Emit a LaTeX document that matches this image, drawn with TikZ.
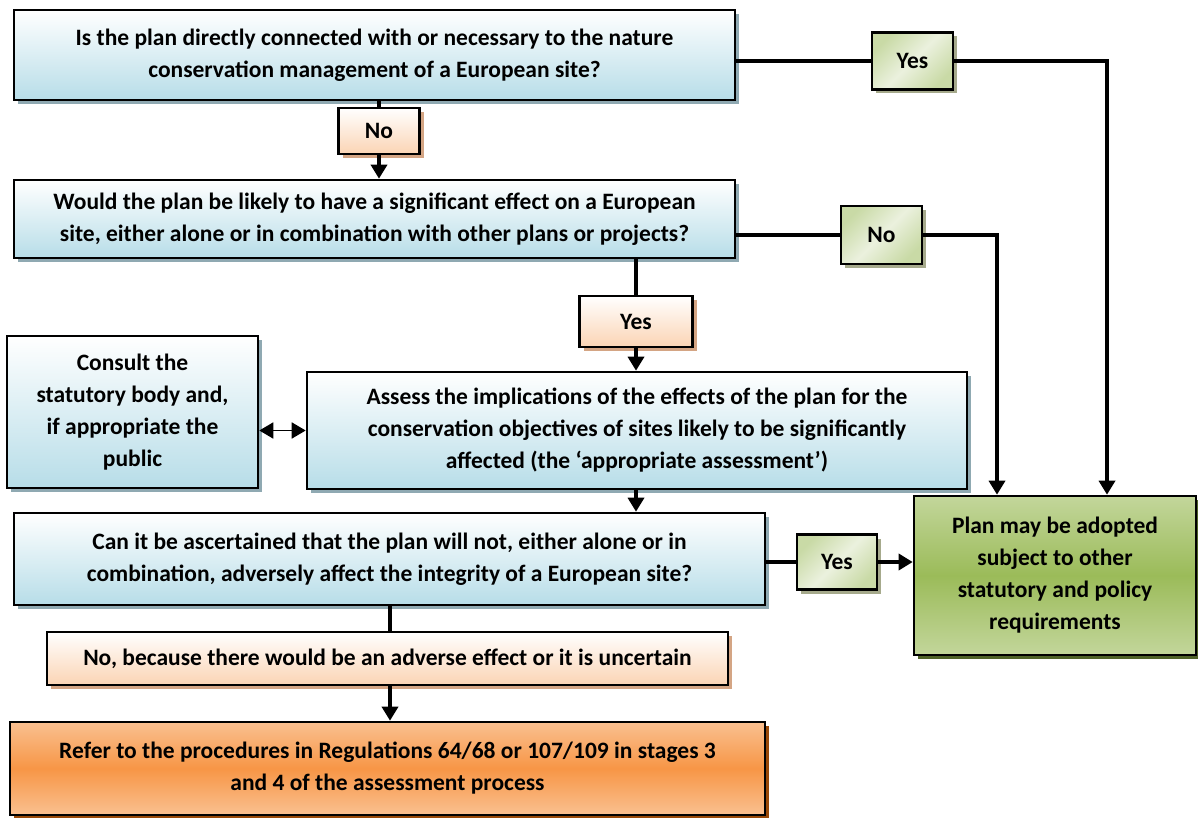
\documentclass[tikz,border=0pt]{standalone}
\usepackage{fontspec}
\setmainfont{Carlito}
\usetikzlibrary{arrows.meta,shadows,calc}

\definecolor{qblue}{HTML}{B7DDE8}
\definecolor{qshadow}{HTML}{8FA9B2}
\definecolor{pcol}{HTML}{FBD4B4}
\definecolor{pshadow}{HTML}{D4A584}
\definecolor{glight}{HTML}{EBF1DE}
\definecolor{gmid}{HTML}{C9DAA6}
\definecolor{gshadow}{HTML}{A6AA8C}
\definecolor{rlight}{HTML}{C3D69B}
\definecolor{rdark}{HTML}{9BBB59}
\definecolor{rshadow}{HTML}{4F6228}
\definecolor{olight}{HTML}{FAC090}
\definecolor{odark}{HTML}{F79646}
\definecolor{oshadow}{HTML}{984807}

\tikzset{
  qbox/.style={draw=black, line width=2.6pt, inner sep=0, align=center,
               top color=white, bottom color=qblue,
               drop shadow={shadow xshift=4pt, shadow yshift=-4pt,
                            fill=qshadow, opacity=1}},
  plabel/.style={draw=black, line width=2.6pt, inner sep=0, align=center,
               top color=white, bottom color=pcol,
               drop shadow={shadow xshift=4pt, shadow yshift=-4pt,
                            fill=pshadow, opacity=1}},
  glabel/.style={draw=black, line width=2.6pt, inner sep=0, align=center,
               top color=gmid, bottom color=gmid, middle color=glight,
               shading angle=45,
               drop shadow={shadow xshift=4pt, shadow yshift=-4pt,
                            fill=gshadow, opacity=1}},
  flow line/.style={draw=black, line width=3.4pt},
  flow arrow/.style={flow line, -{Triangle[length=14pt,width=16pt]}},
}

\begin{document}
\begin{tikzpicture}[x=1pt, y=-1pt,
    font=\fontsize{23.5}{32}\selectfont\bfseries,
  ]
  \useasboundingbox (0,0) rectangle (1198,818);

  % ======== QUESTIONS (left column) ========
  \node[qbox, minimum width=721, minimum height=90] (q1) at (374.5, 55)
    {Is the plan directly connected with or necessary to the nature\\
     conservation management of a European site?};
  \node[plabel, minimum width=81, minimum height=46] (no1) at (379, 131) {No};
  \node[qbox, minimum width=721, minimum height=78] (q2) at (374.5, 219)
    {Would the plan be likely to have a significant effect on a European\\
     site, either alone or in combination with other plans or projects?};
  \node[plabel, minimum width=113, minimum height=51] (yes2) at (636, 321.5) {Yes};
  \node[qbox, minimum width=251, minimum height=152] (cons) at (132.5, 412)
    {Consult the\\ statutory body and,\\ if appropriate the\\ public};
  \node[qbox, minimum width=660, minimum height=117] (q3) at (637, 430.5)
    {Assess the implications of the effects of the plan for the\\
     conservation objectives of sites likely to be significantly\\
     affected (the ‘appropriate assessment’)};
  \node[qbox, minimum width=751, minimum height=92] (q4) at (389.5, 559)
    {Can it be ascertained that the plan will not, either alone or in\\
     combination, adversely affect the integrity of a European site?};
  \node[plabel, minimum width=681, minimum height=53] (nob) at (387.5, 658.5)
    {No, because there would be an adverse effect or it is uncertain};
  \node[draw=black, line width=2.6pt, inner sep=0, align=center,
        top color=olight, bottom color=olight, middle color=odark,
        drop shadow={shadow xshift=4pt, shadow yshift=-4pt, fill=oshadow, opacity=1},
        minimum width=755, minimum height=93] (refer) at (387.5, 768.5)
    {Refer to the procedures in Regulations 64/68 or 107/109 in stages 3\\
     and 4 of the assessment process};

  % ======== OUTCOME (right) ========
  \node[glabel, minimum width=81, minimum height=57] (yes1) at (912.5, 61) {Yes};
  \node[glabel, minimum width=81, minimum height=58] (no2) at (881.5, 235) {No};
  \node[glabel, minimum width=80, minimum height=55] (yes3) at (837, 562) {Yes};
  \node[draw=black, line width=2.6pt, inner sep=0, align=center,
        top color=rlight, bottom color=rlight, middle color=rdark,
        drop shadow={shadow xshift=4pt, shadow yshift=-4pt, fill=rshadow, opacity=1},
        minimum width=282, minimum height=159] (res) at (1055, 575.5)
    {Plan may be adopted\\ subject to other\\ statutory and policy\\ requirements};
  \coordinate (c1) at (1107, 61);
  \coordinate (c2) at (997, 235);

  % ======== CONNECTIONS ========
  \draw[flow line] (no1.north |- q1.south) -- (no1.north);
  \draw[flow arrow] (no1.south) -- (no1.south |- q2.north);
  \draw[flow line] (yes2.north |- q2.south) -- (yes2.north);
  \draw[flow arrow] (yes2.south) -- (yes2.south |- q3.north);
  \draw[flow arrow] (q3.south -| yes2) -- (q4.north -| yes2);
  \draw[flow line] (q4.south -| 390,0) -- (nob.north -| 390,0);
  \draw[flow arrow] (nob.south -| 390,0) -- (refer.north -| 390,0);
  \draw[line width=1.8pt, {Triangle[length=14pt,width=16pt]}-{Triangle[length=14pt,width=16pt]}]
    (cons.east |- q3.west) -- (q3.west);

  \draw[flow line] (yes1.west -| q1.east) -- (yes1.west);
  \draw[flow arrow] (yes1.east) -- (c1) -- (c1 |- res.north);
  \draw[flow line] (no2.west -| q2.east) -- (no2.west);
  \draw[flow arrow] (no2.east) -- (c2) -- (c2 |- res.north);
  \draw[flow line] (yes3.west -| q4.east) -- (yes3.west);
  \draw[flow arrow] (yes3.east) -- (res.west |- yes3.east);

\end{tikzpicture}
\end{document}
